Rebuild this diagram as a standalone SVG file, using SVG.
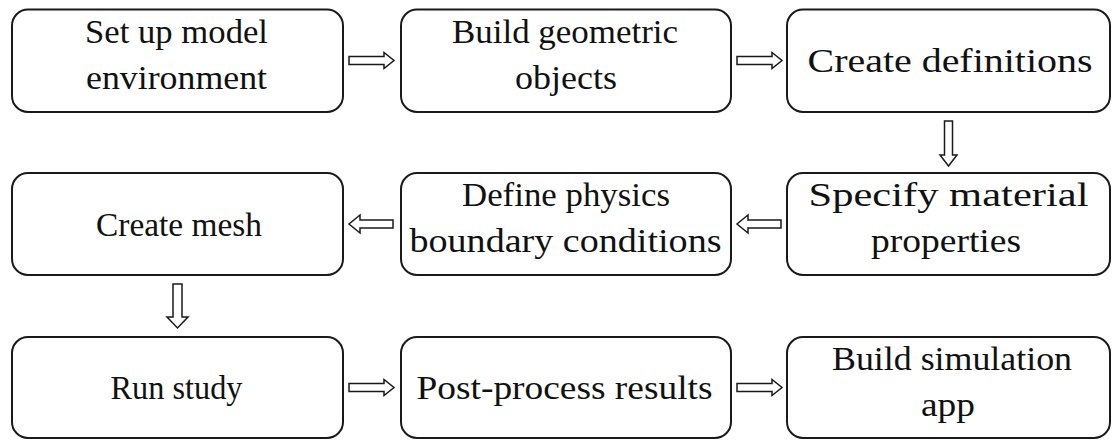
<svg xmlns="http://www.w3.org/2000/svg" width="1113" height="440" viewBox="0 0 1113 440">
  <style>
    .box { fill: #ffffff; stroke: #1a1a1a; stroke-width: 2; }
    .lbl { font-family: "Liberation Serif", "Times New Roman", serif; font-size: 34px; fill: #111111; text-anchor: middle; }
    .arw { fill: #ffffff; stroke: #1a1a1a; stroke-width: 1.5; stroke-linejoin: miter; }
  </style>
  <rect width="1113" height="440" fill="#ffffff"/>

  <!-- Row 1 -->
  <g id="setup">
    <rect class="box" x="12" y="9.5" width="331" height="102.5" rx="16"/>
    <text class="lbl" x="176.5" y="43" textLength="183" lengthAdjust="spacingAndGlyphs">Set up model</text>
    <text class="lbl" x="176.5" y="89" textLength="181" lengthAdjust="spacingAndGlyphs">environment</text>
  </g>
  <g id="geometry">
    <rect class="box" x="401" y="9.5" width="330" height="102.5" rx="16"/>
    <text class="lbl" x="565" y="43" textLength="226" lengthAdjust="spacingAndGlyphs">Build geometric</text>
    <text class="lbl" x="566" y="89" textLength="102" lengthAdjust="spacingAndGlyphs">objects</text>
  </g>
  <g id="definitions">
    <rect class="box" x="787" y="9.5" width="323" height="102.5" rx="16"/>
    <text class="lbl" x="950" y="72" textLength="285" lengthAdjust="spacingAndGlyphs">Create definitions</text>
  </g>

  <!-- Row 2 -->
  <g id="mesh">
    <rect class="box" x="12" y="173" width="331" height="102" rx="16"/>
    <text class="lbl" x="179" y="236" textLength="166" lengthAdjust="spacingAndGlyphs">Create mesh</text>
  </g>
  <g id="physics">
    <rect class="box" x="401" y="173" width="330" height="102" rx="16"/>
    <text class="lbl" x="566" y="206" textLength="208" lengthAdjust="spacingAndGlyphs">Define physics</text>
    <text class="lbl" x="565.5" y="252" textLength="312" lengthAdjust="spacingAndGlyphs">boundary conditions</text>
  </g>
  <g id="materials">
    <rect class="box" x="787" y="173" width="323" height="102" rx="16"/>
    <text class="lbl" x="948.5" y="206" textLength="280" lengthAdjust="spacingAndGlyphs">Specify material</text>
    <text class="lbl" x="946" y="252" textLength="150" lengthAdjust="spacingAndGlyphs">properties</text>
  </g>

  <!-- Row 3 -->
  <g id="study">
    <rect class="box" x="12" y="337" width="331" height="101" rx="16"/>
    <text class="lbl" x="176.5" y="399" textLength="132" lengthAdjust="spacingAndGlyphs">Run study</text>
  </g>
  <g id="postprocess">
    <rect class="box" x="401" y="337" width="330" height="101" rx="16"/>
    <text class="lbl" x="564.5" y="399" textLength="296" lengthAdjust="spacingAndGlyphs">Post-process results</text>
  </g>
  <g id="app">
    <rect class="box" x="787" y="337" width="323" height="101" rx="16"/>
    <text class="lbl" x="952" y="370" textLength="240" lengthAdjust="spacingAndGlyphs">Build simulation</text>
    <text class="lbl" x="948" y="416" textLength="54" lengthAdjust="spacingAndGlyphs">app</text>
  </g>

  <!-- Hollow block arrows between steps -->
  <g id="connectors">
    <!-- row 1, pointing right -->
    <polygon class="arw" points="349,56.5 384,56.5 384,52.5 394,60.5 384,68.5 384,64.5 349,64.5"/>
    <polygon class="arw" points="737,56.5 772,56.5 772,52.5 782,60.5 772,68.5 772,64.5 737,64.5"/>
    <!-- down from definitions to materials -->
    <polygon class="arw" points="944.5,121 952.5,121 952.5,155 957,155 948.5,166 940,155 944.5,155"/>
    <!-- row 2, pointing left -->
    <polygon class="arw" points="781,220 748,220 748,215 737,224 748,233 748,228 781,228"/>
    <polygon class="arw" points="393,220 360,220 360,215 349,224 360,233 360,228 393,228"/>
    <!-- down from mesh to study -->
    <polygon class="arw" points="173,284 182,284 182,317 188,317 177.5,328 167,317 173,317"/>
    <!-- row 3, pointing right -->
    <polygon class="arw" points="349,383.5 384,383.5 384,379.5 394,387.5 384,395.5 384,391.5 349,391.5"/>
    <polygon class="arw" points="737,383.5 772,383.5 772,379.5 782,387.5 772,395.5 772,391.5 737,391.5"/>
  </g>
</svg>
